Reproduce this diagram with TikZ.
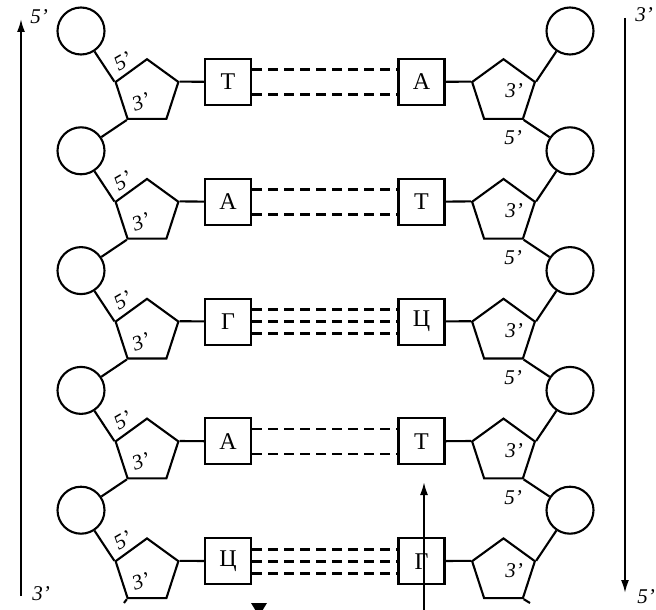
\documentclass[tikz,border=0pt]{standalone}
\usepackage{fontspec}
\setmainfont{Liberation Serif}
\usetikzlibrary{shapes.geometric,arrows.meta,calc}
\begin{document}
\begin{tikzpicture}[x=1pt,y=-1pt,
  ln/.style={line width=2.1pt,black},
  phos/.style={circle,draw,ln,minimum size=47pt,inner sep=0pt},
  sugar/.style={regular polygon,regular polygon sides=5,draw,ln,minimum size=66pt,inner sep=0pt},
  base/.style={rectangle,draw,ln,minimum size=46pt,inner sep=0pt,font=\fontsize{24}{27}\selectfont},
  bond/.style={line width=2.8pt,black,dash pattern=on 10pt off 6pt},
  lab/.style={inner sep=0pt,font=\itshape\fontsize{21}{24}\selectfont},
  strand/.style={line width=1.9pt,black,-{Latex[length=13pt,width=8pt]}}]
\useasboundingbox (0,0) rectangle (656,610);
% phosphate circles
\foreach \i in {0,...,4}{
  \pgfmathsetmacro{\cy}{31+119.8*\i}
  \node[phos] (lc\i) at (81,\cy) {};
  \node[phos] (rc\i) at (570,\cy) {};
}
% nucleotides
\foreach \i/\l/\r/\n in {0/Т/А/2,1/А/Т/2,2/Г/Ц/3,3/А/Т/2,4/Ц/Г/3}{
  \pgfmathsetmacro{\ry}{82+119.8*\i}
  \pgfmathsetmacro{\py}{\ry+10.2}
  \node[sugar] (lp\i) at (147,\py) {};
  \node[sugar] (rp\i) at (503.5,\py) {};
  \node[base] (lb\i) at (228,\ry) {\l};
  \node[base] (rb\i) at (421.5,\ry) {\r};
  \draw[ln] (lp\i.corner 5) -- (lb\i);
  \draw[ln] (rb\i) -- (rp\i.corner 2);
  \draw[ln] (lc\i) -- (lp\i.corner 2);
  \draw[ln] (rc\i) -- (rp\i.corner 5);
  \ifnum\n=2
    \draw[bond] ([yshift=12.5pt]lb\i.east) -- ([yshift=12.5pt]rb\i.west);
    \draw[bond] ([yshift=-12.5pt]lb\i.east) -- ([yshift=-12.5pt]rb\i.west);
  \else
    \draw[bond] ([yshift=12pt]lb\i.east) -- ([yshift=12pt]rb\i.west);
    \draw[bond] (lb\i.east) -- (rb\i.west);
    \draw[bond] ([yshift=-12pt]lb\i.east) -- ([yshift=-12pt]rb\i.west);
  \fi
  \node[lab,rotate=30] (lf\i) at (123,\ry-21) {5’};
  \node[lab,rotate=20] (lt\i) at (141,\ry+20) {3’};
  \node[lab] (rt\i) at (514,\ry+9) {3’};
}
% right 5' labels below the sugars (last one lies off the picture)
\foreach \i in {0,...,3}{
  \pgfmathsetmacro{\ry}{82+119.8*\i}
  \node[lab] (rf\i) at (513,\ry+56) {5’};
}
% backbone links to next phosphate
\foreach \i in {0,...,3}{
  \pgfmathtruncatemacro{\j}{\i+1}
  \draw[ln] (lp\i.corner 3) -- (lc\j);
  \draw[ln] (rp\i.corner 4) -- (rc\j);
}
\coordinate (lend) at (124,603);
\coordinate (rend) at (530,603);
\draw[ln] (lp4.corner 3) -- (lend);
\draw[ln] (rp4.corner 4) -- (rend);
% strand direction arrows
\coordinate (la0) at (21,596);
\coordinate (la1) at (21,19);
\coordinate (ra0) at (625,18);
\coordinate (ra1) at (625,593);
\draw[strand] (la0) -- (la1);
\draw[strand] (ra0) -- (ra1);
\node[lab] (l5top) at (39,17) {5’};
\node[lab] (l3bot) at (41,594) {3’};
\node[lab] (r3top) at (644,15) {3’};
\node[lab] (r5bot) at (646,597) {5’};
% pointer arrows at bottom
\coordinate (pa0) at (424,610);
\coordinate (pa1) at (424,482);
\draw[strand,line width=2pt] (pa0) -- (pa1);
\begin{scope}
  \clip (0,0) rectangle (656,610);
  \fill[black] (251,603) -- (267,603) -- (259,616) -- cycle;
\end{scope}
\end{tikzpicture}
\end{document}
